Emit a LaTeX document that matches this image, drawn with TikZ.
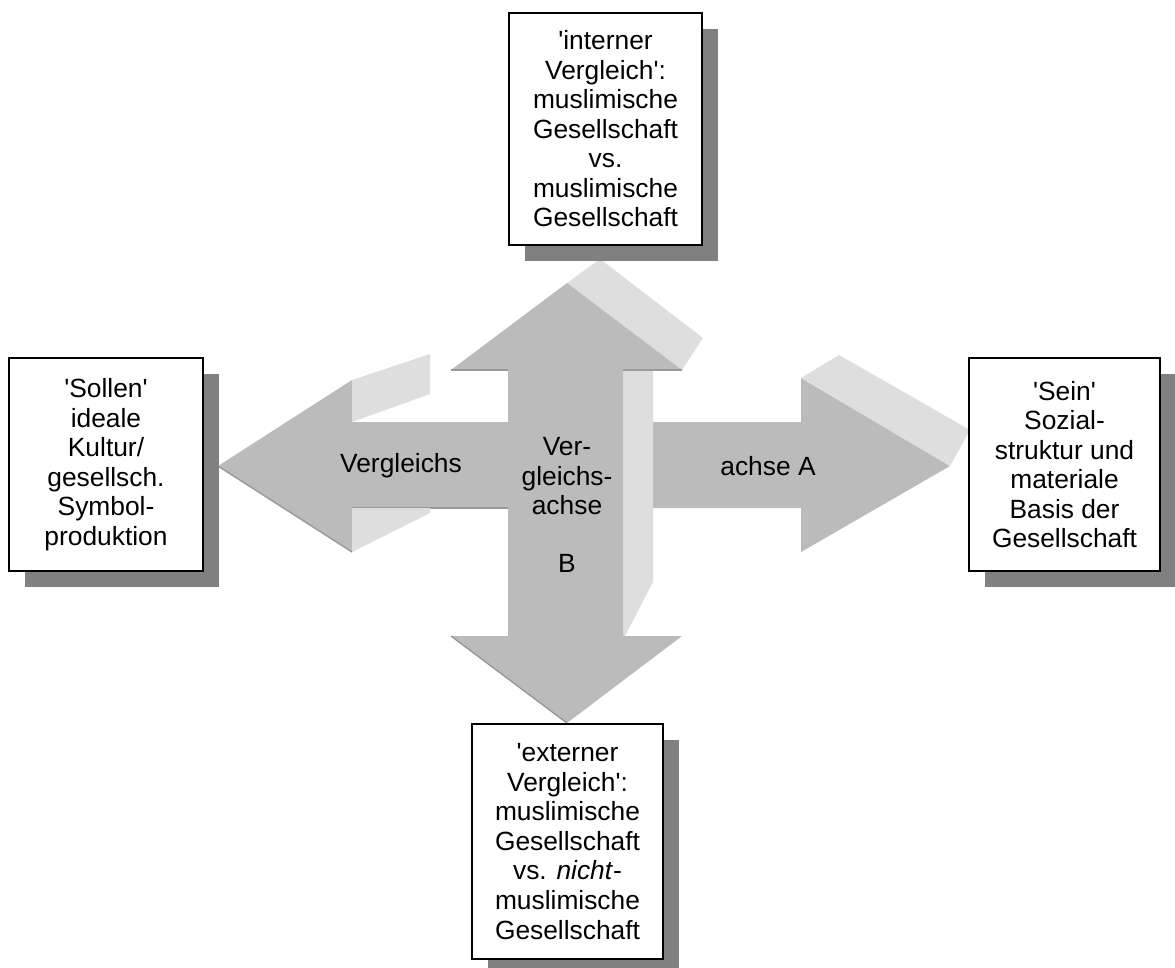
\documentclass[tikz,border=0pt]{standalone}
\usepackage{fontspec}
\setmainfont{Liberation Sans}
\usetikzlibrary{shadows}
\definecolor{arrowgray}{HTML}{BBBBBB}
\definecolor{facegray}{HTML}{DEDEDE}
\definecolor{edgegray}{HTML}{999999}
\newcommand{\q}{\textquotesingle}
\begin{document}
\begin{tikzpicture}[x=0.02cm, y=-0.02cm]
\tikzstyle{box} = [rectangle, draw, line width=1.2pt, fill=white, align=center, inner sep=0pt, font=\fontsize{15}{16.8}\selectfont, drop shadow={shadow xshift=0.32cm, shadow yshift=-0.32cm, fill=black!50, opacity=1}]
\tikzstyle{dark} = [fill=arrowgray]
\tikzstyle{face} = [fill=facegray]
\tikzstyle{rim} = [draw=edgegray, line width=0.8pt]
\tikzstyle{axislabel} = [align=center, font=\fontsize{15}{16.8}\selectfont]

\useasboundingbox (0,0) rectangle (1175,967);

% Comparison axis A (horizontal double arrow)
\path [dark] (218,466) -- (352,380) -- (352,422) -- (801,422) -- (801,378) -- (950,466)
  -- (801,552) -- (801,508) -- (352,508) -- (352,552) -- cycle;
\draw [rim] (218,466) -- (352,552);
\draw [rim] (352,508) -- (508,508);

% Light side faces
\path [face] (352,380) -- (430,354) -- (430,394) -- (352,422) -- cycle;
\path [face] (352,508) -- (430,508) -- (430,513) -- (352,552) -- cycle;
\path [face] (801,378) -- (839,355) -- (970,430) -- (950,466) -- cycle;
\path [face] (567,283) -- (600,259) -- (703,338) -- (682,370) -- cycle;
\path [face] (623,370) -- (653,370) -- (653,582) -- (623,640) -- cycle;

% Comparison axis B (vertical double arrow)
\path [dark] (567,283) -- (682,370) -- (623,370) -- (623,636) -- (682,636) -- (567,723)
  -- (451,636) -- (508,636) -- (508,370) -- (451,370) -- cycle;
\draw [rim] (451,370) -- (508,370);
\draw [rim] (623,370) -- (682,370);
\draw [rim] (451,636) -- (567,723);

% Axis labels
\node [axislabel] (labelleft) at (401,466) {Vergleichs};
\node [axislabel] (labelright) at (768,466) {achse A};
\node [axislabel] (labelmid) at (567,505) {Ver-\\gleichs-\\achse\\[16pt]B};

% Boxes
\node [box, minimum width=3.86cm, minimum height=4.64cm] (intern) at (605.5,129)
  {\q interner\\Vergleich\q:\\muslimische\\Gesellschaft\\vs.\\muslimische\\Gesellschaft};
\node [box, minimum width=3.88cm, minimum height=4.26cm] (sollen) at (106,464.5)
  {\q Sollen\q\\ideale\\Kultur/\\gesellsch.\\Symbol-\\produktion};
\node [box, minimum width=3.82cm, minimum height=4.26cm] (sein) at (1064.5,464.5)
  {\q Sein\q\\Sozial-\\struktur und\\materiale\\Basis der\\Gesellschaft};
\node [box, minimum width=3.82cm, minimum height=4.70cm] (extern) at (567.5,841.5)
  {\q externer\\Vergleich\q:\\muslimische\\Gesellschaft\\vs. \textit{nicht}-\\muslimische\\Gesellschaft};

\end{tikzpicture}
\end{document}
